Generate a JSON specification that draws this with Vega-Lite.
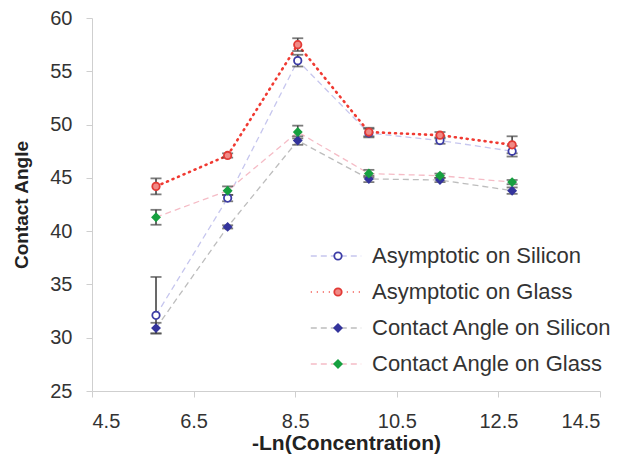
{
  "$schema": "https://vega.github.io/schema/vega-lite/v6.json",
  "autosize": "none",
  "width": 508,
  "height": 373,
  "padding": {"left": 92, "top": 18, "right": 32, "bottom": 68},
  "background": "white",
  "config": {
    "font": "Liberation Sans",
    "view": {"stroke": null},
    "axis": {"grid": false, "domainColor": "#cfcfcf", "tickColor": "#cfcfcf", "tickSize": 6, "labelFontSize": 20, "labelColor": "#333333", "titleColor": "#222222", "titleFontWeight": "bold", "titleFontSize": 21}
  },
  "data": {"values": [
    {"series": "Asymptotic on Silicon", "x": 5.76, "y": 32.1, "lo": 30.4, "hi": 35.7},
    {"series": "Asymptotic on Silicon", "x": 7.17, "y": 43.1, "lo": 42.8, "hi": 43.4},
    {"series": "Asymptotic on Silicon", "x": 8.55, "y": 56.0, "lo": 55.45, "hi": 56.55},
    {"series": "Asymptotic on Silicon", "x": 9.95, "y": 49.2, "lo": 48.8, "hi": 49.6},
    {"series": "Asymptotic on Silicon", "x": 11.35, "y": 48.5, "lo": 48.2, "hi": 48.8},
    {"series": "Asymptotic on Silicon", "x": 12.77, "y": 47.5, "lo": 47.0, "hi": 48.0},
    {"series": "Asymptotic on Glass", "x": 5.76, "y": 44.2, "lo": 43.45, "hi": 44.95},
    {"series": "Asymptotic on Glass", "x": 7.17, "y": 47.1, "lo": 46.9, "hi": 47.3},
    {"series": "Asymptotic on Glass", "x": 8.55, "y": 57.5, "lo": 56.9, "hi": 58.1},
    {"series": "Asymptotic on Glass", "x": 9.95, "y": 49.3, "lo": 48.9, "hi": 49.7},
    {"series": "Asymptotic on Glass", "x": 11.35, "y": 49.0, "lo": 48.7, "hi": 49.3},
    {"series": "Asymptotic on Glass", "x": 12.77, "y": 48.1, "lo": 47.3, "hi": 48.9},
    {"series": "Contact Angle on Silicon", "x": 5.76, "y": 30.9, "lo": 30.4, "hi": 31.4},
    {"series": "Contact Angle on Silicon", "x": 7.17, "y": 40.4, "lo": 40.25, "hi": 40.55},
    {"series": "Contact Angle on Silicon", "x": 8.55, "y": 48.5, "lo": 48.1, "hi": 48.9},
    {"series": "Contact Angle on Silicon", "x": 9.95, "y": 44.9, "lo": 44.6, "hi": 45.2},
    {"series": "Contact Angle on Silicon", "x": 11.35, "y": 44.8, "lo": 44.6, "hi": 45.0},
    {"series": "Contact Angle on Silicon", "x": 12.77, "y": 43.8, "lo": 43.5, "hi": 44.1},
    {"series": "Contact Angle on Glass", "x": 5.76, "y": 41.3, "lo": 40.6, "hi": 42.0},
    {"series": "Contact Angle on Glass", "x": 7.17, "y": 43.8, "lo": 43.4, "hi": 44.2},
    {"series": "Contact Angle on Glass", "x": 8.55, "y": 49.3, "lo": 48.7, "hi": 49.9},
    {"series": "Contact Angle on Glass", "x": 9.95, "y": 45.4, "lo": 45.05, "hi": 45.75},
    {"series": "Contact Angle on Glass", "x": 11.35, "y": 45.2, "lo": 45.0, "hi": 45.4},
    {"series": "Contact Angle on Glass", "x": 12.77, "y": 44.6, "lo": 44.4, "hi": 44.8}
  ]},
  "encoding": {
    "x": {"field": "x", "type": "quantitative", "title": "-Ln(Concentration)",
      "scale": {"domain": [4.5, 14.5], "nice": false, "zero": false},
      "axis": {"values": [4.5, 6.5, 8.5, 10.5, 12.5, 14.5], "format": ".1f", "labelPadding": 14, "titlePadding": 1}},
    "y": {"field": "y", "type": "quantitative", "title": "Contact Angle",
      "scale": {"domain": [25, 60], "nice": false, "zero": false},
      "axis": {"values": [25, 30, 35, 40, 45, 50, 55, 60], "labelPadding": 14, "titlePadding": 18, "titleFontSize": 19}}
  },
  "layer": [
    {
      "transform": [{"calculate": "datum.series + ' '", "as": "lineSeries"}],
      "encoding": {
        "color": {"field": "lineSeries", "type": "nominal",
          "scale": {"domain": ["Asymptotic on Silicon ", "Asymptotic on Glass ", "Contact Angle on Silicon ", "Contact Angle on Glass "], "range": ["#c6c6ee", "#f03a32", "#bdbdbd", "#f5bcc6"]},
          "legend": {"orient": "none", "legendX": 233, "legendY": 227, "title": null, "symbolType": "M-11,0H11", "symbolSize": 21, "symbolStrokeWidth": 1.5, "labelFontSize": 22, "labelExpr": "''", "labelLimit": 0, "rowPadding": 14, "labelOffset": 0, "padding": 0}},
        "strokeDash": {"field": "lineSeries", "type": "nominal",
          "scale": {"domain": ["Asymptotic on Silicon ", "Asymptotic on Glass ", "Contact Angle on Silicon ", "Contact Angle on Glass "], "range": [[6, 4], [1, 5], [6, 4], [6, 4]]},
          "legend": {"orient": "none", "legendX": 233, "legendY": 227, "title": null, "symbolType": "M-11,0H11", "symbolSize": 21, "symbolStrokeWidth": 1.5, "labelFontSize": 22, "labelExpr": "''", "labelLimit": 0, "rowPadding": 14, "labelOffset": 0, "padding": 0}}
      },
      "layer": [
        {
          "transform": [{"filter": "datum.series !== 'Asymptotic on Glass'"}],
          "mark": {"type": "line", "strokeWidth": 1.3}
        },
        {
          "transform": [{"filter": "datum.series === 'Asymptotic on Glass'"}],
          "mark": {"type": "line", "strokeWidth": 2.6, "strokeCap": "round"}
        }
      ]
    },
    {
      "mark": {"type": "rule", "color": "#444444", "strokeWidth": 1.6},
      "encoding": {"y": {"field": "lo", "type": "quantitative"}, "y2": {"field": "hi"}}
    },
    {
      "mark": {"type": "tick", "orient": "horizontal", "color": "#444444", "thickness": 1.8, "size": 11},
      "encoding": {"y": {"field": "lo", "type": "quantitative"}}
    },
    {
      "mark": {"type": "tick", "orient": "horizontal", "color": "#444444", "thickness": 1.8, "size": 11},
      "encoding": {"y": {"field": "hi", "type": "quantitative"}}
    },
    {
      "mark": {"type": "point", "filled": true, "strokeWidth": 1.8, "size": 55, "opacity": 1},
      "encoding": {
        "color": {"field": "series", "type": "nominal",
          "scale": {"domain": ["Asymptotic on Silicon", "Asymptotic on Glass", "Contact Angle on Silicon", "Contact Angle on Glass"], "range": ["#3c3ca6", "#e23a35", "#34349c", "#17a040"]},
          "legend": {"orient": "none", "legendX": 235, "legendY": 227, "title": null, "symbolSize": 55, "labelFontSize": 22, "labelColor": "#333333", "labelLimit": 0, "rowPadding": 14, "labelOffset": 23, "padding": 0, "symbolStrokeWidth": 1.8}},
        "stroke": {"field": "series", "type": "nominal",
          "scale": {"domain": ["Asymptotic on Silicon", "Asymptotic on Glass", "Contact Angle on Silicon", "Contact Angle on Glass"], "range": ["#3c3ca6", "#e23a35", "#34349c", "#17a040"]},
          "legend": {"orient": "none", "legendX": 235, "legendY": 227, "title": null, "symbolSize": 55, "labelFontSize": 22, "labelColor": "#333333", "labelLimit": 0, "rowPadding": 14, "labelOffset": 23, "padding": 0, "symbolStrokeWidth": 1.8}},
        "fill": {"field": "series", "type": "nominal",
          "scale": {"domain": ["Asymptotic on Silicon", "Asymptotic on Glass", "Contact Angle on Silicon", "Contact Angle on Glass"], "range": ["#ffffff", "#f08a86", "#34349c", "#17a040"]},
          "legend": {"orient": "none", "legendX": 235, "legendY": 227, "title": null, "symbolSize": 55, "labelFontSize": 22, "labelColor": "#333333", "labelLimit": 0, "rowPadding": 14, "labelOffset": 23, "padding": 0, "symbolStrokeWidth": 1.8}},
        "shape": {"field": "series", "type": "nominal",
          "scale": {"domain": ["Asymptotic on Silicon", "Asymptotic on Glass", "Contact Angle on Silicon", "Contact Angle on Glass"], "range": ["circle", "circle", "diamond", "diamond"]},
          "legend": {"orient": "none", "legendX": 235, "legendY": 227, "title": null, "symbolSize": 55, "labelFontSize": 22, "labelColor": "#333333", "labelLimit": 0, "rowPadding": 14, "labelOffset": 23, "padding": 0, "symbolStrokeWidth": 1.8}}
      }
    }
  ],
  "resolve": {"scale": {"color": "independent", "strokeDash": "independent", "shape": "independent", "fill": "independent", "stroke": "independent"}}
}
